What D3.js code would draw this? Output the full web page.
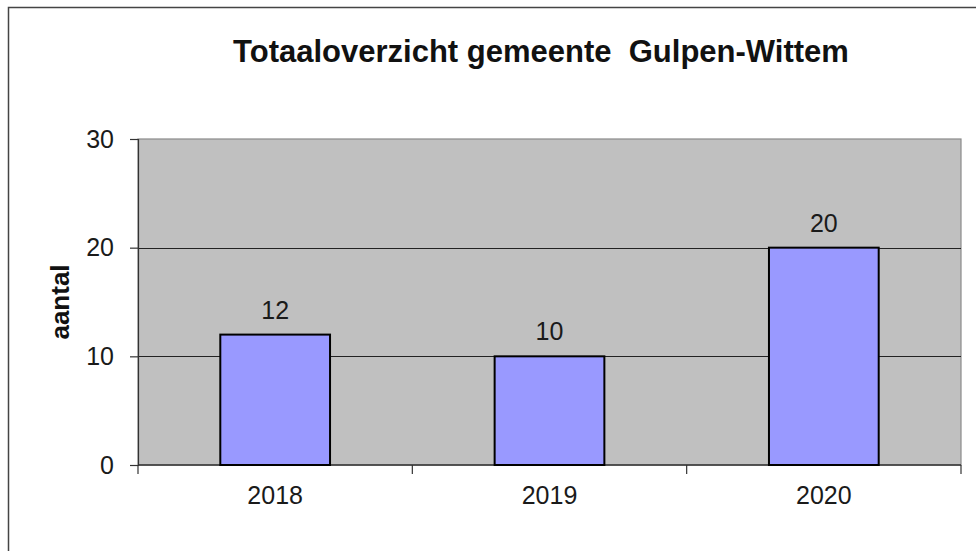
<!DOCTYPE html>
<html><head><meta charset="utf-8">
<script src="https://cdn.jsdelivr.net/npm/d3@7"></script>
<style>html,body{margin:0;padding:0;background:#fff;}svg{display:block;}</style>
</head><body>
<svg id="chart" width="976" height="551"></svg>
<script>
const categories = ["2018", "2019", "2020"];
const values = [12, 10, 20];
const yTicks = [0, 10, 20, 30];
const titleText = "Totaaloverzicht gemeente  Gulpen-Wittem";
const yLabel = "aantal";

const svg = d3.select("#chart");
const font = "'Liberation Sans', Arial, sans-serif";
const m = {left: 138, top: 139, right: 961, bottom: 465};

// outer frame
svg.append("rect").attr("x", 8.5).attr("y", 7.5).attr("width", 1000).attr("height", 1000)
  .attr("fill", "#fff").attr("stroke", "#444").attr("stroke-width", 1.5);

const x = d3.scaleBand().domain(categories).range([m.left, m.right]).paddingInner(0.6).paddingOuter(0.3);
const xCat = d3.scaleBand().domain(categories).range([m.left, m.right]);
const y = d3.scaleLinear().domain([0, 30]).range([m.bottom, m.top]);

// plot area
svg.append("rect").attr("x", m.left).attr("y", m.top).attr("width", m.right - m.left).attr("height", m.bottom - m.top)
  .attr("fill", "#c0c0c0").attr("stroke", "#8a8a8a").attr("stroke-width", 1.2);

// gridlines
svg.append("g").selectAll("line").data(yTicks.filter(d => d > 0 && d < 30)).join("line")
  .attr("x1", m.left).attr("x2", m.right).attr("y1", d => Math.round(y(d)) + 0.5).attr("y2", d => Math.round(y(d)) + 0.5)
  .attr("stroke", "#222").attr("stroke-width", 1);

// y axis
const yAxis = svg.append("g").attr("transform", `translate(${m.left},0)`)
  .call(d3.axisLeft(y).tickValues(yTicks).tickSize(8).tickPadding(16));
yAxis.select(".domain").attr("stroke", "#333").attr("stroke-width", 1.2);
yAxis.selectAll(".tick line").attr("stroke", "#333").attr("stroke-width", 1.2);
yAxis.selectAll("text").attr("font-family", font).attr("font-size", 25).attr("fill", "#1a1a1a");

// x axis
const xAxis = svg.append("g").attr("transform", `translate(0,${m.bottom})`)
  .call(d3.axisBottom(xCat).tickSize(0).tickPadding(21));
xAxis.select(".domain").remove();
xAxis.selectAll("text").attr("font-family", font).attr("font-size", 25).attr("fill", "#1a1a1a");
svg.append("line").attr("x1", m.left).attr("x2", m.right).attr("y1", m.bottom).attr("y2", m.bottom)
  .attr("stroke", "#333").attr("stroke-width", 1.5);
// category separator ticks
const sepX = [m.left, ...categories.map(c => xCat(c) + xCat.bandwidth())];
svg.append("g").selectAll("line").data(sepX).join("line")
  .attr("x1", d => d).attr("x2", d => d).attr("y1", m.bottom).attr("y2", m.bottom + 9)
  .attr("stroke", "#333").attr("stroke-width", 1.2);

// bars
svg.append("g").selectAll("rect").data(values).join("rect")
  .attr("x", (d, i) => x(categories[i])).attr("width", x.bandwidth())
  .attr("y", d => y(d)).attr("height", d => y(0) - y(d))
  .attr("fill", "#9999ff").attr("stroke", "#000").attr("stroke-width", 2);

// value labels
svg.append("g").selectAll("text").data(values).join("text")
  .attr("x", (d, i) => x(categories[i]) + x.bandwidth() / 2).attr("y", d => y(d) - 16)
  .attr("text-anchor", "middle").attr("font-family", font).attr("font-size", 25).attr("fill", "#1a1a1a")
  .text(d => d);

// title
svg.append("text").attr("x", 541).attr("y", 62).attr("text-anchor", "middle")
  .style("white-space", "pre")
  .attr("font-family", font).attr("font-weight", "bold").attr("font-size", 31).attr("fill", "#111")
  .text(titleText);

// y label
svg.append("text").attr("transform", `translate(69,302) rotate(-90)`).attr("text-anchor", "middle")
  .attr("font-family", font).attr("font-weight", "bold").attr("font-size", 26).attr("fill", "#111")
  .text(yLabel);
</script>
</body></html>
